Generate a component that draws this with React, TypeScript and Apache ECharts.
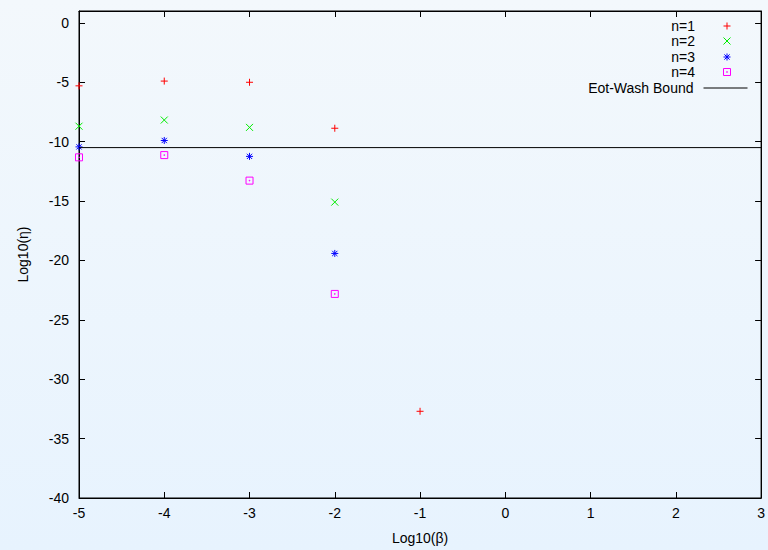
import React, { useEffect, useRef } from "react";
import * as echarts from "echarts";

const xTicks = [-5, -4, -3, -2, -1, 0, 1, 2, 3];
const betaN1 = [-5, -4, -3, -2, -1];
const etaN1 = [-5.3, -4.9, -5.0, -8.87, -32.7];
const betaN2 = [-5, -4, -3, -2];
const etaN2 = [-8.7, -8.18, -8.8, -15.09];
const betaN3 = [-5, -4, -3, -2];
const etaN3 = [-10.44, -9.9, -11.24, -19.41];
const betaN4 = [-5, -4, -3, -2];
const etaN4 = [-11.32, -11.13, -13.28, -22.82];
const eotWashBound = -10.5;
const seriesNames = ["n=1", "n=2", "n=3", "n=4", "Eot-Wash Bound"];

const FONT = "Liberation Sans, Arial, sans-serif";

const SYM_PLUS = "path://M0,4L8,4M4,0L4,8";
const SYM_CROSS = "path://M0,0L8,8M8,0L0,8";
const SYM_STAR = "path://M0,4L8,4M4,0L4,8M1,1L7,7M7,1L1,7";
const SYM_BOX = "path://M0,0L8,0L8,8L0,8ZM3.6,3.6L4.4,3.6L4.4,4.4L3.6,4.4Z";

function pts(xs: number[], ys: number[]) {
  return xs.map((x, i) => [x, ys[i]]);
}

export default function App() {
  const ref = useRef<HTMLDivElement>(null);
  useEffect(() => {
    if (!ref.current) return;
    const chart = echarts.init(ref.current, null, { renderer: "svg" });
    const labelStyle = { color: "#000", fontFamily: FONT, fontSize: 14 };
    const scatter = (name: string, data: number[][], symbol: string, color: string) => ({
      name,
      type: "scatter",
      data,
      symbol,
      symbolSize: 7,
      xAxisIndex: 0,
      yAxisIndex: 0,
      itemStyle: { color: "transparent", borderColor: color, borderWidth: 1, opacity: 1 },
      emphasis: { disabled: true },
    });
    const rows = [27, 42, 58, 73, 89];
    const legends = seriesNames.map((n, i) => {
      const isLine = i === 4;
      return {
        data: [n],
        orient: "vertical",
        align: "right",
        right: isLine ? 20 : 37,
        top: rows[i] - 8,
        itemWidth: isLine ? 44 : 54,
        itemHeight: isLine ? 14 : 7,
        itemGap: 0,
        padding: 0,
        selectedMode: false,
        textStyle: { ...labelStyle, padding: isLine ? [0, 5, 0, 0] : 0 },
        itemStyle: isLine
          ? { color: "transparent", borderColor: "transparent", borderWidth: 0, opacity: 0 }
          : { borderWidth: 1 },
        lineStyle: { width: 1 },
      };
    });
    const axisLine = { show: true, onZero: false, lineStyle: { color: "#000", width: 1 } };
    const axisTick = { show: true, inside: true, length: 6, lineStyle: { color: "#000" } };
    chart.setOption({
      animation: false,
      backgroundColor: "transparent",
      grid: {
        left: 79,
        right: 1,
        top: 11,
        bottom: 49,
        show: true,
        borderColor: "#000",
        borderWidth: 1,
        backgroundColor: "transparent",
      },
      legend: legends,
      xAxis: [
        {
          type: "value",
          min: -5,
          max: 3,
          interval: 1,
          position: "bottom",
          name: "Log10(β)",
          nameLocation: "middle",
          nameGap: 33,
          nameTextStyle: labelStyle,
          axisLine,
          axisTick,
          axisLabel: { ...labelStyle, margin: 8, formatter: (v: number) => (xTicks.includes(v) ? String(v) : "") },
          splitLine: { show: false },
        },
        {
          type: "value",
          min: -5,
          max: 3,
          interval: 1,
          position: "top",
          axisLine,
          axisTick,
          axisLabel: { show: false },
          splitLine: { show: false },
        },
      ],
      yAxis: [
        {
          type: "value",
          min: -40,
          max: 1,
          interval: 5,
          position: "left",
          name: "Log10(η)",
          nameLocation: "middle",
          nameGap: 49,
          nameRotate: 90,
          nameTextStyle: labelStyle,
          axisLine,
          axisTick,
          axisLabel: { ...labelStyle, margin: 10, formatter: (v: number) => (v % 5 === 0 ? String(v) : "") },
          splitLine: { show: false },
        },
        {
          type: "value",
          min: -40,
          max: 1,
          interval: 5,
          position: "right",
          axisLine,
          axisTick,
          axisLabel: { show: false },
          splitLine: { show: false },
        },
      ],
      series: [
        scatter("n=1", pts(betaN1, etaN1), SYM_PLUS, "#ff0000"),
        scatter("n=2", pts(betaN2, etaN2), SYM_CROSS, "#00ee00"),
        scatter("n=3", pts(betaN3, etaN3), SYM_STAR, "#0000ff"),
        scatter("n=4", pts(betaN4, etaN4), SYM_BOX, "#ff00ff"),
        {
          name: "Eot-Wash Bound",
          type: "line",
          data: [
            [xTicks[0], eotWashBound],
            [xTicks[xTicks.length - 1], eotWashBound],
          ],
          symbol: "none",
          showSymbol: false,
          lineStyle: { color: "#000", width: 1 },
          itemStyle: { color: "#000" },
          emphasis: { disabled: true },
        },
      ],
    });
    return () => chart.dispose();
  }, []);
  return (
    <div
      style={{
        position: "absolute",
        left: 0,
        top: 0,
        width: 768,
        height: 550,
        background: "linear-gradient(to bottom, #f3f8fc, #e7f3fe)",
      }}
    >
      <div ref={ref} style={{ width: 768, height: 550 }} />
    </div>
  );
}
